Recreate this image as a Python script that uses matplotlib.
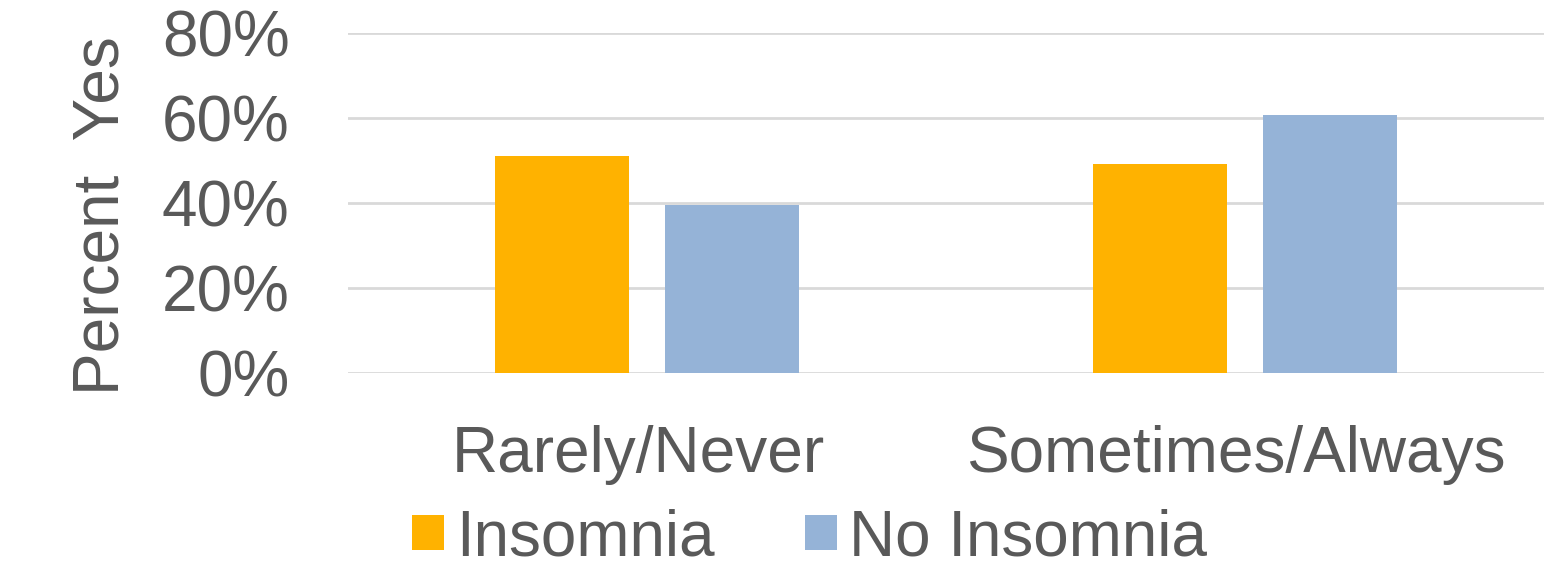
import matplotlib
matplotlib.use("Agg")
import matplotlib.pyplot as plt
import matplotlib.transforms as mtrans
import numpy as np
from matplotlib.ticker import FuncFormatter

categories = ["Rarely/Never", "Sometimes/Always"]
series_names = ["Insomnia", "No Insomnia"]
insomnia = [51.0, 49.1]
no_insomnia = [39.4, 60.7]
y_ticks = [0, 20, 40, 60, 80]

colors = ["#FFB200", "#95B3D7"]
text_color = "#595959"
grid_color = "#D9D9D9"
fs = 46

plt.rcParams["font.family"] = ["Liberation Sans", "DejaVu Sans"]

fig = plt.figure(figsize=(15.63, 5.75), dpi=100)
ax = fig.add_axes([348 / 1563, 202.3 / 575, (1544 - 348) / 1563, 339.7 / 575])

x = np.arange(len(categories))
width = 0.224
offset = 0.142
ax.bar(x - offset, insomnia, width, color=colors[0], label=series_names[0], zorder=3)
ax.bar(x + offset, no_insomnia, width, color=colors[1], label=series_names[1], zorder=3)

ax.set_xlim(-0.5, 1.5)
ax.set_ylim(0, 80)
ax.set_yticks(y_ticks)
ax.yaxis.set_major_formatter(FuncFormatter(lambda v, p: f"{v:.0f}%"))
ax.set_xticks(x)
ax.set_xticklabels(categories)

ax.grid(axis="y", color=grid_color, linewidth=2, zorder=0)
ax.set_axisbelow(True)
for s in ax.spines.values():
    s.set_visible(False)
ax.tick_params(axis="both", length=0, labelsize=fs, labelcolor=text_color)
ax.tick_params(axis="y", pad=42)
ax.tick_params(axis="x", pad=38)

# nudge category labels slightly left
shift = mtrans.ScaledTranslation(-9 / 100, 0, fig.dpi_scale_trans)
for lab in ax.get_xticklabels():
    lab.set_transform(lab.get_transform() + shift)

ax.set_ylabel("Percent  Yes", fontsize=fs, color=text_color, labelpad=22, y=0.462)

fig.legend(loc="center", bbox_to_anchor=(0.518, 0.064), ncol=2, frameon=False,
           fontsize=fs, labelcolor=text_color, handlelength=0.5, handleheight=0.45,
           handletextpad=0.2, columnspacing=1.4, borderaxespad=0, borderpad=0)

fig.savefig("out.png", dpi=100, facecolor="white")
